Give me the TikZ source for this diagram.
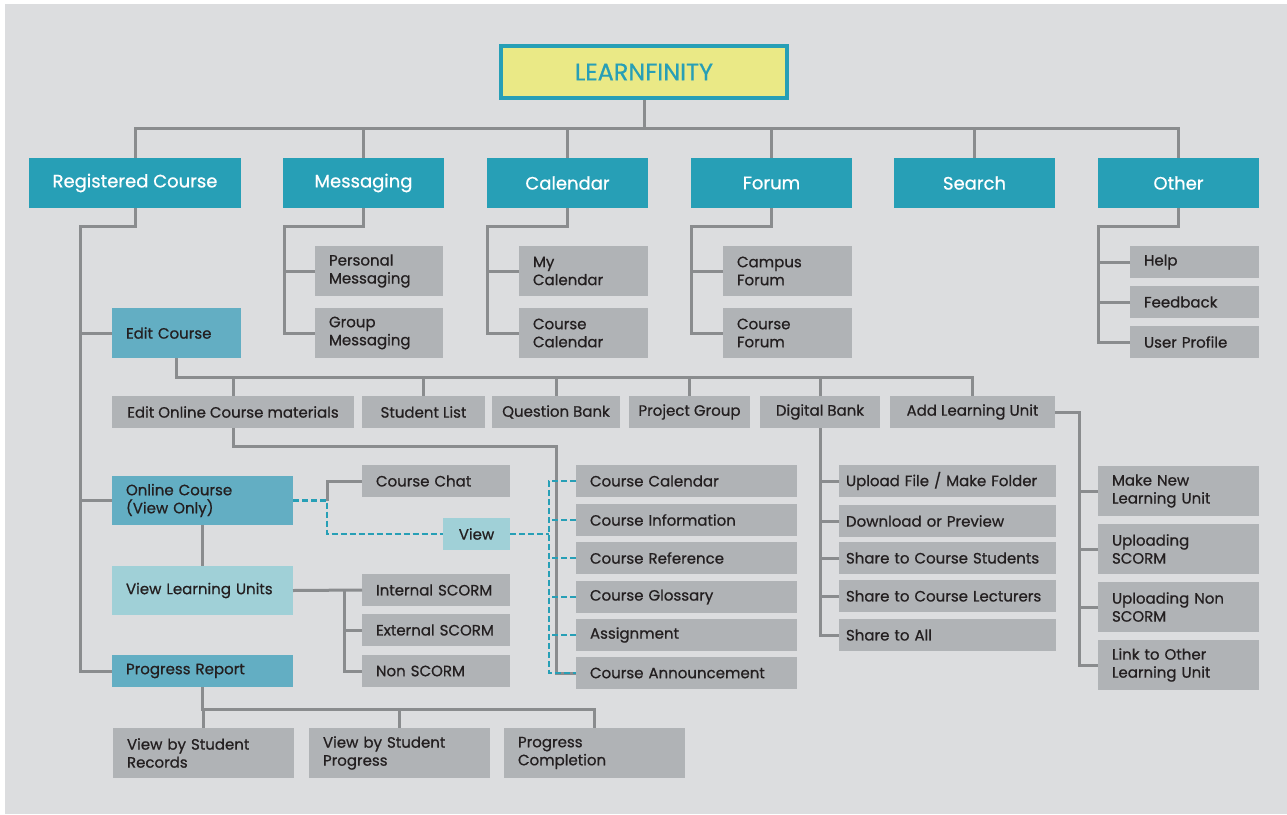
\documentclass[tikz,border=0pt]{standalone}
\usepackage{fontspec}
\setmainfont{Poppins}[FakeBold=0.7]
\usetikzlibrary{calc}
\definecolor{bg}{RGB}{220,221,223}
\definecolor{tealdark}{RGB}{39,159,182}
\definecolor{tealmid}{RGB}{99,174,195}
\definecolor{teallight}{RGB}{160,208,215}
\definecolor{boxgray}{RGB}{176,179,182}
\definecolor{linegray}{RGB}{138,140,142}
\definecolor{ink}{RGB}{35,31,32}
\definecolor{titleyellow}{RGB}{234,233,134}
\tikzset{
  every node/.style={inner ysep=0pt, outer sep=0pt},
  main/.style={fill=tealdark, text=white, minimum width=161pt, minimum height=50pt, font=\fontsize{18}{20}\selectfont},
  leaf/.style={fill=boxgray, text=ink, inner xsep=14pt, align=left, font=\fontsize{15}{18}\selectfont},
  tool/.style={leaf, short, inner xsep=3pt},
  midbox/.style={leaf, fill=tealmid},
  palebox/.style={leaf, fill=teallight},
  tall/.style={minimum height=50pt},
  short/.style={minimum height=32pt},
  link/.style={draw=linegray, line width=3pt},
  dashlink/.style={draw=tealdark, line width=2.5pt, dash pattern=on 6pt off 3pt},
}

\begin{document}
\begin{tikzpicture}[x=1pt,y=-1pt]
\useasboundingbox (0,0) rectangle (1287,814);
\fill[bg] (5,4) rectangle (1287,814);
\node[draw=tealdark, line width=4pt, fill=titleyellow, minimum width=286pt, minimum height=52pt, text=tealdark, font=\fontsize{24}{26}\selectfont] (title) at (644,72) {LEARNFINITY};
\node[main, minimum width=212pt] (reg) at (135,183) {Registered Course};
\node[main] (msg) at (363.5,183) {Messaging}; \node[main] (cal) at (567.5,183) {Calendar};
\node[main] (forum) at (771.5,183) {Forum}; \node[main] (search) at (974.5,183) {Search};
\node[main] (other) at (1178.5,183) {Other};
\node[leaf, tall, text width=100pt] (pmsg) at (379,271) {Personal\\Messaging}; \node[leaf, tall, text width=100pt] (gmsg) at (379,333) {Group\\Messaging};
\node[leaf, tall, text width=101pt] (mycal) at (583.5,271) {My\\Calendar}; \node[leaf, tall, text width=101pt] (coursecal) at (583.5,333) {Course\\Calendar};
\node[leaf, tall, text width=101pt] (campus) at (787.5,271) {Campus\\Forum}; \node[leaf, tall, text width=101pt] (courseforum) at (787.5,333) {Course\\Forum};
\node[leaf, short, text width=101pt] (help) at (1194.5,262) {Help}; \node[leaf, short, text width=101pt] (feedback) at (1194.5,302) {Feedback};
\node[leaf, short, text width=101pt] (profile) at (1194.5,342) {User Profile};
\node[midbox, tall, text width=101pt] (edit) at (176.5,333) {Edit Course};
\node[tool, minimum width=242pt] (materials) at (233,412) {Edit Online Course materials};
\node[tool, minimum width=123pt] (students) at (423.5,412) {Student List};
\node[tool, minimum width=128pt] (qbank) at (556,412) {Question Bank};
\node[tool, minimum width=121pt] (pgroup) at (689.5,412) {Project Group};
\node[tool, minimum width=120pt] (dbank) at (820,412) {Digital Bank};
\node[tool, minimum width=165pt] (addunit) at (972.5,412) {Add Learning Unit};
\node[leaf, short, text width=193pt] (ccal) at (686.5,481) {Course Calendar}; \node[leaf, short, text width=193pt] (cinfo) at (686.5,520) {Course Information};
\node[leaf, short, text width=193pt] (cref) at (686.5,558) {Course Reference}; \node[leaf, short, text width=193pt] (cgloss) at (686.5,597) {Course Glossary};
\node[leaf, short, text width=193pt] (assign) at (686.5,635) {Assignment}; \node[leaf, short, text width=193pt] (announce) at (686.5,673) {Course Announcement};
\node[midbox, minimum height=49pt, text width=153pt] (online) at (202.5,500.5) {Online Course\\(View Only)};
\node[leaf, short, text width=120pt] (chat) at (436,481) {Course Chat};
\node[palebox, short, minimum width=67pt] (view) at (476.5,534) {View};
\node[palebox, minimum height=49pt, text width=153pt] (units) at (202.5,590.5) {View Learning Units};
\node[leaf, short, text width=120pt] (intscorm) at (436,590) {Internal SCORM}; \node[leaf, short, text width=120pt] (extscorm) at (436,630) {External SCORM};
\node[leaf, short, text width=120pt] (nonscorm) at (436,671) {Non SCORM};
\node[midbox, short, text width=153pt] (report) at (202.5,671) {Progress Report};
\node[leaf, tall, text width=153pt] (byrecords) at (203.5,753) {View by Student\\Records}; \node[leaf, tall, text width=153pt] (byprogress) at (399.5,753) {View by Student\\Progress};
\node[leaf, tall, text width=153pt] (completion) at (594.5,753) {Progress\\Completion};
\node[leaf, short, inner xsep=7pt, text width=203pt] (upload) at (947.5,481) {Upload File / Make Folder}; \node[leaf, short, inner xsep=7pt, text width=203pt] (download) at (947.5,521) {Download or Preview};
\node[leaf, short, inner xsep=7pt, text width=203pt] (sharestud) at (947.5,558) {Share to Course Students}; \node[leaf, short, inner xsep=7pt, text width=203pt] (sharelect) at (947.5,596) {Share to Course Lecturers};
\node[leaf, short, inner xsep=7pt, text width=203pt] (shareall) at (947.5,635) {Share to All};
\node[leaf, tall, text width=133pt] (newunit) at (1178.5,491) {Make New\\Learning Unit}; \node[leaf, tall, text width=133pt] (upscorm) at (1178.5,549) {Uploading\\SCORM};
\node[leaf, tall, text width=133pt] (upnon) at (1178.5,607) {Uploading Non\\SCORM}; \node[leaf, tall, text width=133pt] (linkunit) at (1178.5,665) {Link to Other\\Learning Unit};
\foreach \n in {reg,msg,cal,forum,search,other} \draw[link] ($(title.south)+(0,2)$) -- ++(0,28) -| (\n.north);
\draw[link] (msg.south) -- ++(0,18) -| ($(gmsg.west)+(-31,0)$) -- (gmsg.west); \draw[link] (pmsg.west) -- ++(-31,0);
\draw[link] (cal.south) -- ++(0,18) -| ($(coursecal.west)+(-32,0)$) -- (coursecal.west); \draw[link] (mycal.west) -- ++(-32,0);
\draw[link] (forum.south) -- ++(0,18) -| ($(courseforum.west)+(-32,0)$) -- (courseforum.west); \draw[link] (campus.west) -- ++(-32,0);
\draw[link] (other.south) -- ++(0,18) -| ($(profile.west)+(-32,0)$) -- (profile.west); \draw[link] (help.west) -- ++(-32,0); \draw[link] (feedback.west) -- ++(-32,0);
\draw[link] (reg.south) -- ++(0,18) -| ($(report.west)+(-32,0)$) -- (report.west); \draw[link] (edit.west) -- ++(-32,0); \draw[link] (online.west) -- ++(-32,0);
\foreach \n in {materials,students,qbank,pgroup,dbank,addunit} \draw[link] (edit.south) -- ++(0,19) -| (\n.north);
\draw[link] (materials.south) -- ++(0,18) -| ($(announce.west)+(-20,0)$) -- (announce.west);
\draw[link] (online.south) -- (units.north);
\draw[link] (units.east) -- (intscorm.west); \draw[link] ($(intscorm.west)+(-18,0)$) |- (nonscorm.west); \draw[link] (extscorm.west) -- ++(-18,0);
\foreach \n in {byrecords,byprogress,completion} \draw[link] (report.south) -- ++(0,22) -| (\n.north);
\draw[link] (dbank.south) |- (shareall.west); \foreach \n in {upload,download,sharestud,sharelect} \draw[link] (\n.west) -- ++(-19,0);
\draw[link] (addunit.east) -- ++(24,0) |- (linkunit.west); \foreach \n in {newunit,upscorm,upnon} \draw[link] (\n.west) -- ++(-19,0);
\draw[dashlink] (online.east) -- ++(34,0) coordinate (split) |- (view.west); \draw[link] (split) |- (chat.west);
\draw[dashlink] (view.east) -- ++(39,0); \draw[dashlink] (ccal.west) -- ++(-27,0) |- (announce.west);
\foreach \n in {cinfo,cref,cgloss,assign} \draw[dashlink] (\n.west) -- ++(-27,0);
\end{tikzpicture}
\end{document}
